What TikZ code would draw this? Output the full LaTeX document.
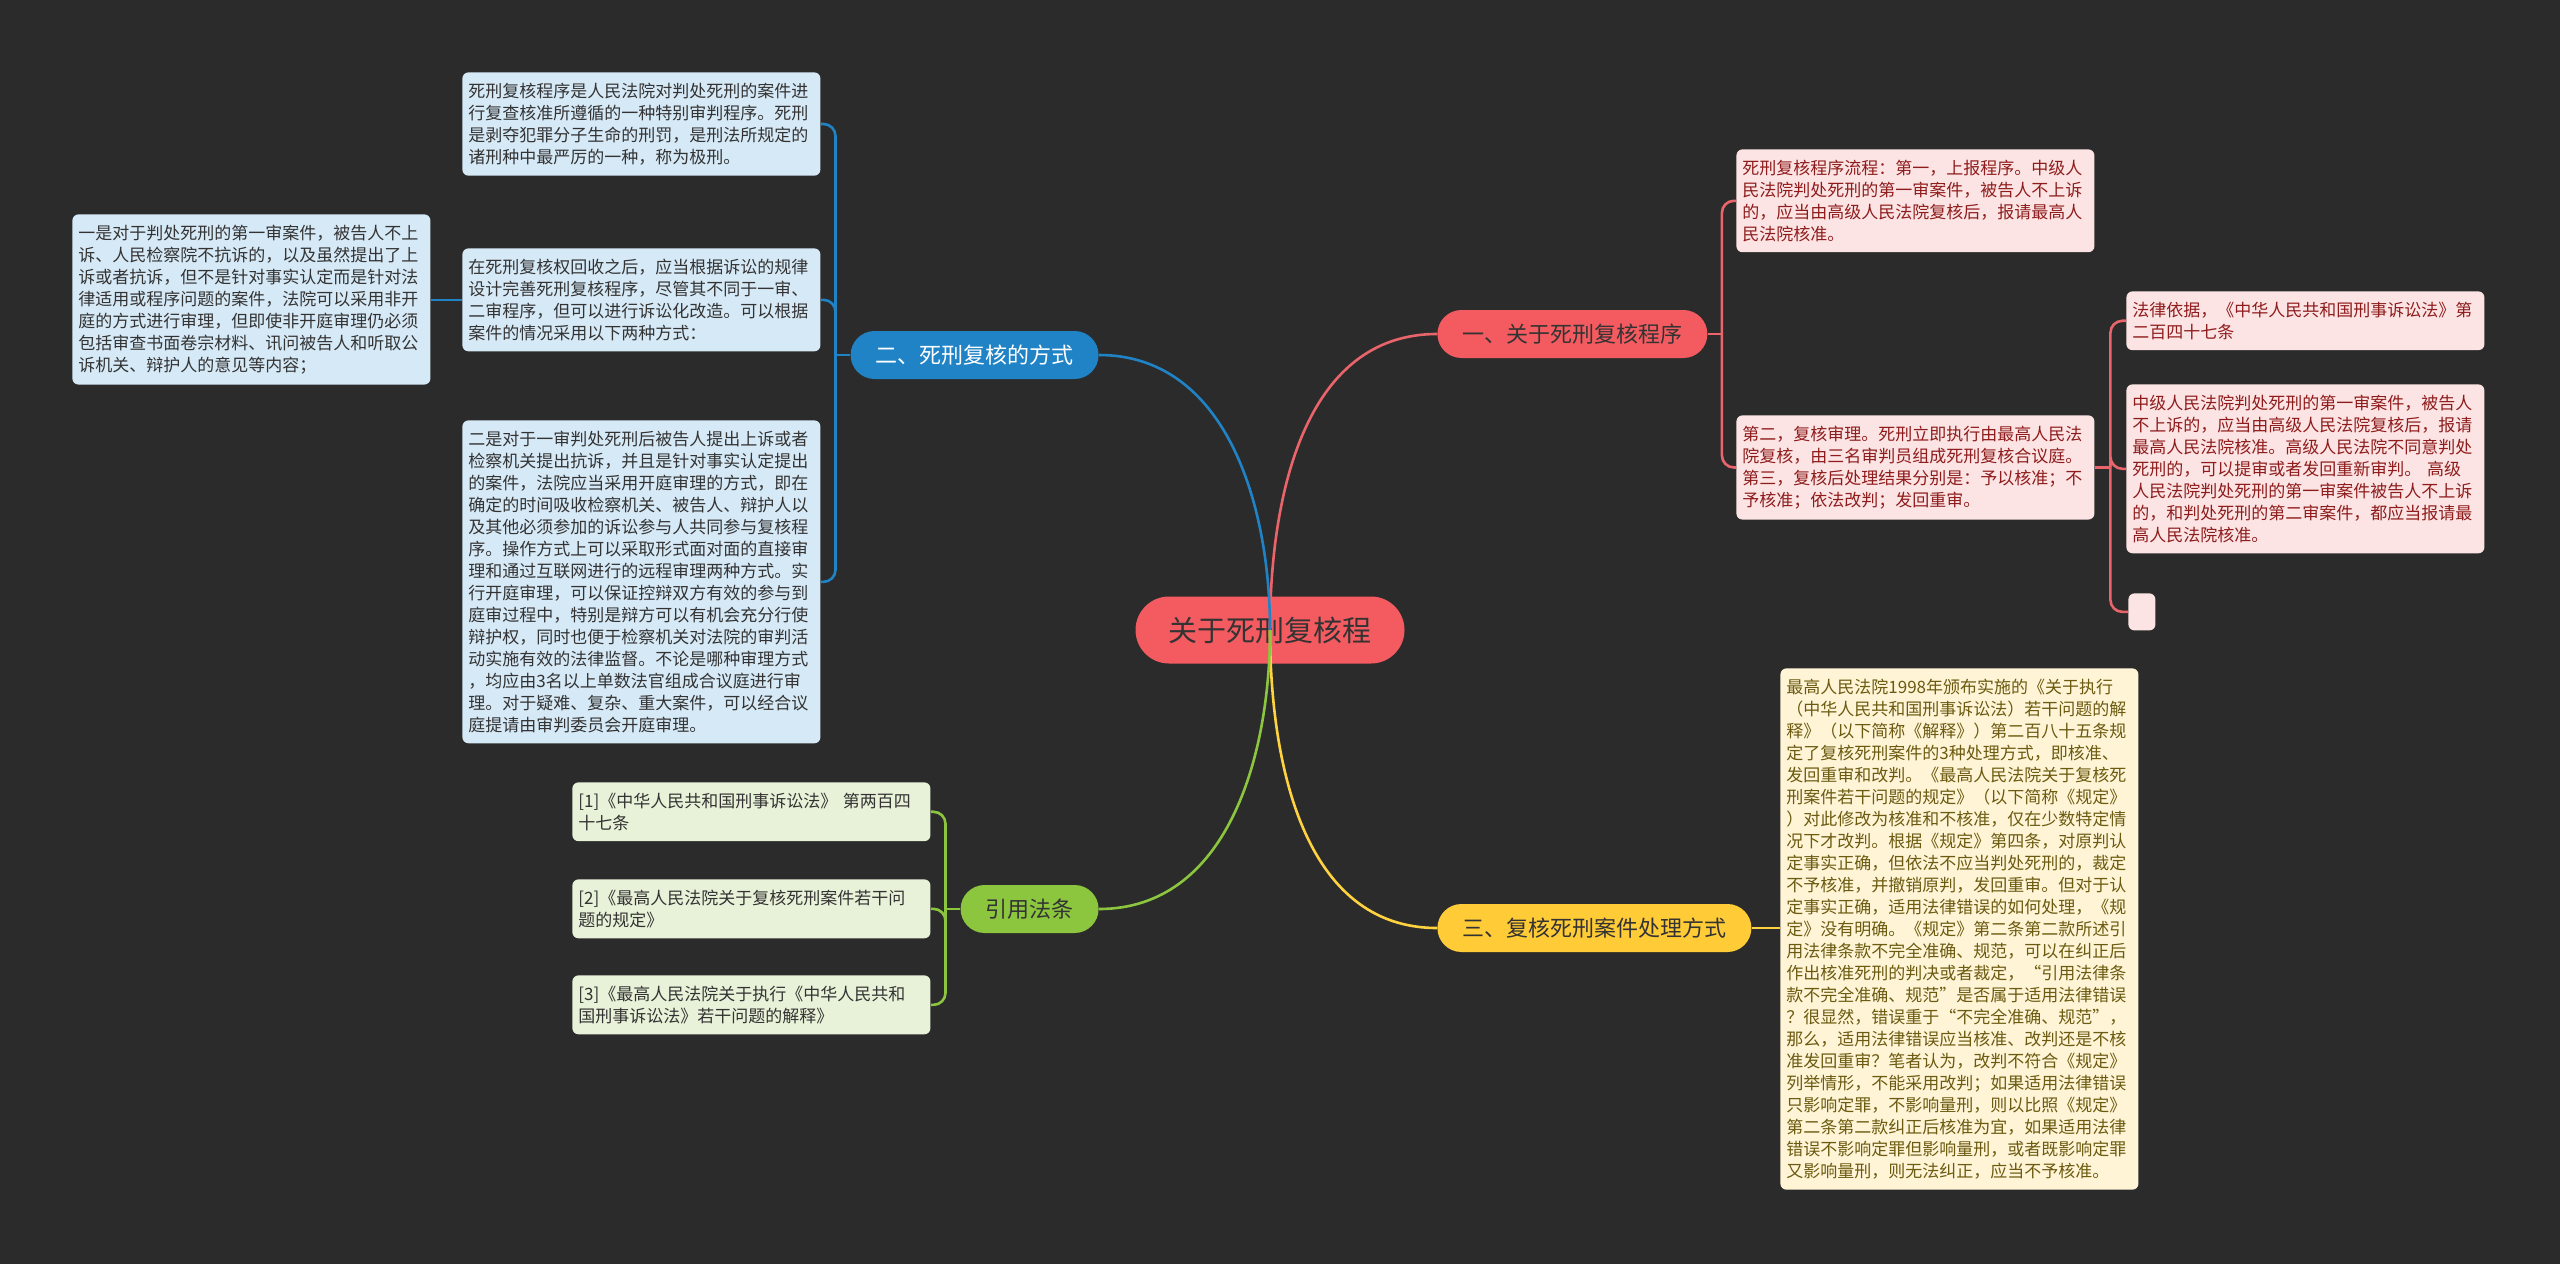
\documentclass[tikz,border=0pt]{standalone}
\usepackage{fontspec}
\setmainfont{Noto Sans CJK SC}
\usetikzlibrary{positioning,calc}
\definecolor{bgdark}{HTML}{2B2B2B}
\definecolor{rootred}{HTML}{F45B60}
\definecolor{linered}{HTML}{E9646B}
\definecolor{leafred}{HTML}{FDE4E4}
\definecolor{textred}{HTML}{8E1C1C}
\definecolor{rootblue}{HTML}{1F83C6}
\definecolor{leafblue}{HTML}{D6E9F6}
\definecolor{rootyellow}{HTML}{FFCB36}
\definecolor{lineyellow}{HTML}{FFD23F}
\definecolor{leafyellow}{HTML}{FFF5D6}
\definecolor{textyellow}{HTML}{6B5A10}
\definecolor{rootgreen}{HTML}{8CC63F}
\definecolor{leafgreen}{HTML}{E8F2D8}
\definecolor{textdark}{HTML}{333333}

\tikzset{
	branch/.style={rectangle,rounded corners=12pt,minimum height=24pt,inner xsep=12.5pt,inner ysep=0pt,font=\fontsize{11}{13}\selectfont},
	leaf/.style={rectangle,rounded corners=3pt,text width=173pt,inner xsep=3pt,inner ysep=5.25pt,align=left,anchor=north west,font=\fontsize{8.5}{11}\selectfont},
	link/.style={line width=1.3pt,rounded corners=6pt},
}

\begin{document}
\begin{tikzpicture}[
			x=0.5pt,y=-0.5pt,
		]
		
		\fill[bgdark] (0,0) rectangle (2560,1264);
		
		\node[rectangle,fill=rootred,text=textdark,rounded corners=16.75pt,minimum height=33.5pt,inner xsep=16.5pt,inner ysep=0pt,font=\fontsize{14.5}{16}\selectfont] (title) at (1270,630) {关于死刑复核程};
		
		\node[branch,fill=rootred,text=textdark,anchor=west] (yi) at (1437,334) {一、关于死刑复核程序};
		\node[branch,fill=rootblue,text=white,anchor=east] (er) at (1099,355) {二、死刑复核的方式};
		\node[branch,fill=rootyellow,text=textdark,anchor=west] (san) at (1437,928) {三、复核死刑案件处理方式};
		\node[branch,fill=rootgreen,text=textdark,anchor=east] (fatiao) at (1099,909) {引用法条};
		
		% 一
		\node[leaf,fill=leafred,text=textred] (liucheng) at (1736,149) {死刑复核程序流程：第一，上报程序。中级人\\民法院判处死刑的第一审案件，被告人不上诉\\的，应当由高级人民法院复核后，报请最高人\\民法院核准。};
		\node[leaf,fill=leafred,text=textred] (shenli) at (1736,415) {第二，复核审理。死刑立即执行由最高人民法\\院复核，由三名审判员组成死刑复核合议庭。\\第三，复核后处理结果分别是：予以核准；不\\予核准；依法改判；发回重审。};
		\node[leaf,fill=leafred,text=textred] (yiju) at (2126,291) {法律依据，《中华人民共和国刑事诉讼法》第\\二百四十七条};
		\node[leaf,fill=leafred,text=textred] (zhongji) at (2126,384) {中级人民法院判处死刑的第一审案件，被告人\\不上诉的，应当由高级人民法院复核后，报请\\最高人民法院核准。高级人民法院不同意判处\\死刑的，可以提审或者发回重新审判。 高级\\人民法院判处死刑的第一审案件被告人不上诉\\的，和判处死刑的第二审案件，都应当报请最\\高人民法院核准。};
		\node[rectangle,rounded corners=3pt,fill=leafred,minimum width=13.5pt,minimum height=18.5pt,anchor=north west] (kong) at (2128,593) {};
		
		% 二
		\node[leaf,fill=leafblue,text=textdark] (dingyi) at (462,72) {死刑复核程序是人民法院对判处死刑的案件进\\行复查核准所遵循的一种特别审判程序。死刑\\是剥夺犯罪分子生命的刑罚，是刑法所规定的\\诸刑种中最严厉的一种，称为极刑。};
		\node[leaf,fill=leafblue,text=textdark] (huishou) at (462,248) {在死刑复核权回收之后，应当根据诉讼的规律\\设计完善死刑复核程序，尽管其不同于一审、\\二审程序，但可以进行诉讼化改造。可以根据\\案件的情况采用以下两种方式：};
		\node[leaf,fill=leafblue,text=textdark] (yishi) at (72,214) {一是对于判处死刑的第一审案件，被告人不上\\诉、人民检察院不抗诉的，以及虽然提出了上\\诉或者抗诉，但不是针对事实认定而是针对法\\律适用或程序问题的案件，法院可以采用非开\\庭的方式进行审理，但即使非开庭审理仍必须\\包括审查书面卷宗材料、讯问被告人和听取公\\诉机关、辩护人的意见等内容；};
		\node[leaf,fill=leafblue,text=textdark] (ershi) at (462,420) {二是对于一审判处死刑后被告人提出上诉或者\\检察机关提出抗诉，并且是针对事实认定提出\\的案件，法院应当采用开庭审理的方式，即在\\确定的时间吸收检察机关、被告人、辩护人以\\及其他必须参加的诉讼参与人共同参与复核程\\序。操作方式上可以采取形式面对面的直接审\\理和通过互联网进行的远程审理两种方式。实\\行开庭审理，可以保证控辩双方有效的参与到\\庭审过程中，特别是辩方可以有机会充分行使\\辩护权，同时也便于检察机关对法院的审判活\\动实施有效的法律监督。不论是哪种审理方式\\，均应由3名以上单数法官组成合议庭进行审\\理。对于疑难、复杂、重大案件，可以经合议\\庭提请由审判委员会开庭审理。};
		
		% 三
		\node[leaf,fill=leafyellow,text=textyellow] (chuli) at (1780,668) {最高人民法院1998年颁布实施的《关于执行\\（中华人民共和国刑事诉讼法）若干问题的解\\释》（以下简称《解释》）第二百八十五条规\\定了复核死刑案件的3种处理方式，即核准、\\发回重审和改判。《最高人民法院关于复核死\\刑案件若干问题的规定》（以下简称《规定》\\）对此修改为核准和不核准，仅在少数特定情\\况下才改判。根据《规定》第四条，对原判认\\定事实正确，但依法不应当判处死刑的，裁定\\不予核准，并撤销原判，发回重审。但对于认\\定事实正确，适用法律错误的如何处理，《规\\定》没有明确。《规定》第二条第二款所述引\\用法律条款不完全准确、规范，可以在纠正后\\作出核准死刑的判决或者裁定，“引用法律条\\款不完全准确、规范”是否属于适用法律错误\\？很显然，错误重于“不完全准确、规范”，\\那么，适用法律错误应当核准、改判还是不核\\准发回重审？笔者认为，改判不符合《规定》\\列举情形，不能采用改判；如果适用法律错误\\只影响定罪，不影响量刑，则以比照《规定》\\第二条第二款纠正后核准为宜，如果适用法律\\错误不影响定罪但影响量刑，或者既影响定罪\\又影响量刑，则无法纠正，应当不予核准。};
		
		% 引用法条
		\node[leaf,fill=leafgreen,text=textdark] (fa1) at (572,782) {[1]《中华人民共和国刑事诉讼法》 第两百四\\十七条};
		\node[leaf,fill=leafgreen,text=textdark] (fa2) at (572,879) {[2]《最高人民法院关于复核死刑案件若干问\\题的规定》};
		\node[leaf,fill=leafgreen,text=textdark] (fa3) at (572,975) {[3]《最高人民法院关于执行《中华人民共和\\国刑事诉讼法》若干问题的解释》};
		
		\node[coordinate] (j1) at ($(yi.east)!0.5!(yi.east -| liucheng.west)$) {};
		\node[coordinate] (j2) at ($(shenli.east)!0.5!(shenli.east -| yiju.west)$) {};
		\node[coordinate] (j3) at ($(er.west)!0.5!(er.west -| dingyi.east)$) {};
		\node[coordinate] (j4) at ($(fatiao.west)!0.5!(fatiao.west -| fa1.east)$) {};
		
		\draw[link,linered] (yi.east) -- (j1);
		\draw[link,linered] (j1) |- (liucheng.west);
		\draw[link,linered] (j1) |- (shenli.west);
		\draw[link,linered] (shenli.east) -- (j2);
		\draw[link,linered] (j2) |- (yiju.west);
		\draw[link,linered] (j2) |- (zhongji.west);
		\draw[link,linered] (j2) |- (kong.west);
		
		\draw[link,rootblue] (er.west) -- (j3);
		\draw[link,rootblue] (j3) |- (dingyi.east);
		\draw[link,rootblue] (j3) |- (huishou.east);
		\draw[link,rootblue] (j3) |- (ershi.east);
		\draw[link,rootblue] (huishou.west) -- (huishou.west -| yishi.east);
		
		\draw[link,lineyellow] (san.east) -- (san.east -| chuli.west);
		
		\draw[link,rootgreen] (fatiao.west) -- (j4);
		\draw[link,rootgreen] (j4) |- (fa1.east);
		\draw[link,rootgreen] (j4) |- (fa2.east);
		\draw[link,rootgreen] (j4) |- (fa3.east);
		
		\draw[link,linered] (title.center) to[out=90,in=180] (yi.west);
		\draw[link,rootblue] (title.center) to[out=90,in=0] (er.east);
		\draw[link,lineyellow] (title.center) to[out=-90,in=180] (san.west);
		\draw[link,rootgreen] (title.center) to[out=-90,in=0] (fatiao.east);
		
	\end{tikzpicture}
\end{document}
